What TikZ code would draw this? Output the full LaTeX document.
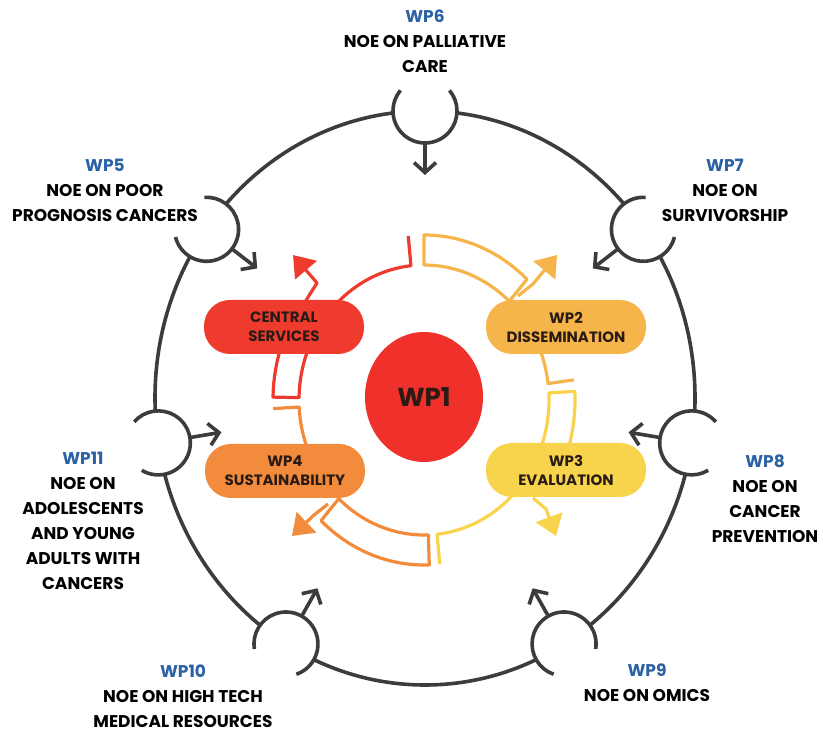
\documentclass[tikz,border=0pt]{standalone}
\usepackage{fontspec}
\setmainfont{Poppins}
\usetikzlibrary{arrows.meta}
\usetikzlibrary{calc}
\usetikzlibrary{shapes.geometric}

\definecolor{ringgray}{HTML}{3C3C3C}
\definecolor{wpblue}{HTML}{2B62A6}
\definecolor{csred}{HTML}{EE3B2E}
\definecolor{wpone}{HTML}{F0302B}
\definecolor{dissem}{HTML}{F5B54A}
\definecolor{evalu}{HTML}{F7D44B}
\definecolor{sustain}{HTML}{F28C3C}
\definecolor{pilltext}{HTML}{2A1B14}

\tikzset{
  ring/.style={draw=ringgray, line width=1.8pt},
  socket/.style={circle, fill=white, minimum size=32pt, inner sep=0pt},
  inarrow/.style={draw=ringgray, line width=1.8pt, -{Straight Barb[length=5pt,width=11pt]}},
  wplabel/.style={align=center, font=\fontsize{8.5}{12.5}\selectfont\bfseries},
  pill/.style={rounded corners=13pt, minimum width=80pt, minimum height=27pt,
    inner sep=1pt, align=center, text=pilltext, font=\fontsize{7.5}{9.5}\selectfont\bfseries},
  band/.style={line width=1.6pt, line join=round},
  outarrow/.style={band, -{Triangle[length=10pt,width=14pt]}}
}

\begin{document}
\begin{tikzpicture}[x=0.5pt, y=0.5pt]
  \useasboundingbox (0,0) rectangle (823,731);
  \coordinate (C) at (425,333);
  \coordinate (O) at (424,331);

  % outer ring with the seven networks
  \draw[ring] (C) ellipse [x radius=270, y radius=287];
  \foreach \n/\t in {6/90, 7/36, 8/-9, 9/-59, 10/-121, 11/189, 5/144}{
    \node[socket] (s\n) at ($(C)+(\t:270 and 287)$) {};
    \draw[ring] (s\n.center) ++({\t+50}:16pt) arc[start angle=\t+50, delta angle=260, radius=16pt];
    \draw[inarrow] (s\n) -- ($(s\n)!32pt!(C)$);
  }

  \node[wplabel] (l6) at (425,690) {\textcolor{wpblue}{WP6}\\NOE ON PALLIATIVE\\CARE};
  \node[wplabel] (l5) at (105,541) {\textcolor{wpblue}{WP5}\\NOE ON POOR\\PROGNOSIS CANCERS};
  \node[wplabel] (l7) at (725,541) {\textcolor{wpblue}{WP7}\\NOE ON\\SURVIVORSHIP};
  \node[wplabel] (l8) at (765,232) {\textcolor{wpblue}{WP8}\\NOE ON\\CANCER\\PREVENTION};
  \node[wplabel] (l11) at (83,210) {\textcolor{wpblue}{WP11}\\NOE ON\\ADOLESCENTS\\AND YOUNG\\ADULTS WITH\\CANCERS};
  \node[wplabel] (l10) at (183,35) {\textcolor{wpblue}{WP10}\\NOE ON HIGH TECH\\MEDICAL RESOURCES};
  \node[wplabel] (l9) at (647,48) {\textcolor{wpblue}{WP9}\\NOE ON OMICS};

  % inner cycle
  \foreach \c/\a/\b in {csred/179/148, dissem/90/47, evalu/3/-22, sustain/-88/-133}
    \draw[band, draw=\c] ($(O)+(\a:151 and 165)$)
      arc[start angle=\a, end angle=\b, x radius=151, y radius=165]
      -- ($(O)+(\b:125 and 135)$)
      arc[start angle=\b, end angle=\a, x radius=125, y radius=135] -- cycle;
  \foreach \c/\a/\b in {csred/134/96, dissem/22/7, evalu/-44/-84, sustain/202/183}
    \draw[band, draw=\c] ($(O)+(\a:125 and 135)$)
      arc[start angle=\a, end angle=\b, x radius=125, y radius=135]
      -- ($(O)+(\b:151 and 165)$);

  \draw[outarrow, draw=csred] ($(O)+(-119,98)$) -- ($(O)+(-107,117)$) -- ($(O)+(-131,145)$);
  \draw[outarrow, draw=dissem] ($(O)+(94,104)$) -- ($(O)+(109,116)$) -- ($(O)+(133,145)$);
  \draw[outarrow, draw=evalu] ($(O)+(109,-98)$) -- ($(O)+(122,-109)$) -- ($(O)+(132,-136)$);
  \draw[outarrow, draw=sustain] ($(O)+(-96,-104)$) -- ($(O)+(-110,-115)$) -- ($(O)+(-132,-136)$);

  \node[pill, fill=csred] (cs) at ($(O)+(-140,73)$) {CENTRAL\\SERVICES};
  \node[pill, fill=dissem] (wp2) at ($(O)+(142,73)$) {WP2\\DISSEMINATION};
  \node[pill, fill=evalu] (wp3) at ($(O)+(142,-70)$) {WP3\\EVALUATION};
  \node[pill, fill=sustain] (wp4) at ($(O)+(-139,-71)$) {WP4\\SUSTAINABILITY};
  \node[ellipse, fill=wpone, minimum width=59pt, minimum height=65pt, inner sep=0pt,
    text=pilltext, font=\fontsize{13}{15}\selectfont\bfseries] (wp1) at (424,334) {WP1};
\end{tikzpicture}
\end{document}
